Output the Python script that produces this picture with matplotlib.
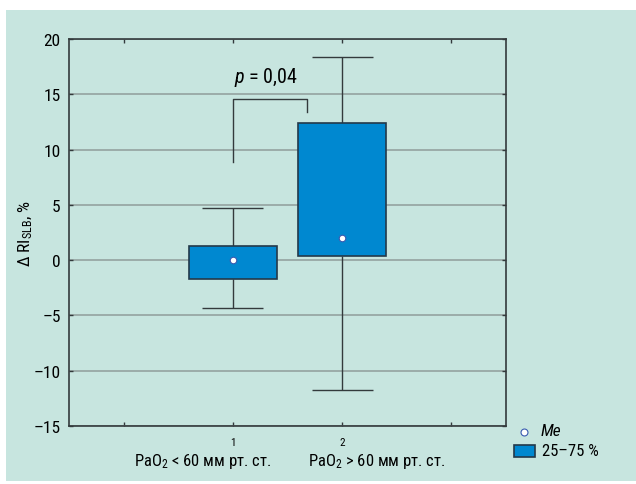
import numpy as np
import matplotlib.pyplot as plt
from matplotlib.patches import Rectangle
from matplotlib.lines import Line2D
import matplotlib.transforms as mtransforms

plt.rcParams['font.family'] = ['Roboto Condensed', 'Liberation Sans', 'DejaVu Sans']
plt.rcParams['mathtext.fontset'] = 'custom'
plt.rcParams['mathtext.rm'] = 'Roboto Condensed'
plt.rcParams['mathtext.it'] = 'Roboto Condensed:italic'

# data
positions = [1, 2]
q1 = [-1.7, 0.35]
q3 = [1.3, 12.4]
median = [0.0, 2.0]
wlow = [-4.3, -11.75]
whigh = [4.7, 18.4]
group_labels = ['PaO$_2$ < 60 мм рт. ст.', 'PaO$_2$ > 60 мм рт. ст.']
yticks = [-15, -10, -5, 0, 5, 10, 15, 20]
ytick_labels = ['\u201315', '\u201310', '\u20135', '0', '5', '10', '15', '20']

bg = '#c7e5df'
boxc = '#0088d0'
dark = '#333a3c'

fig = plt.figure(figsize=(6.36, 4.85), dpi=100, facecolor='white')
fig.patches.append(Rectangle((6 / 636, 3 / 485), 630 / 636, 471 / 485,
                             transform=fig.transFigure, facecolor=bg,
                             edgecolor='none', zorder=-10))
ax = fig.add_axes([69 / 636, 58 / 485, 437 / 636, 387 / 485])
ax.set_facecolor(bg)

ax.set_xlim(-0.5, 3.5)
ax.set_ylim(-15, 20)
ax.set_yticks(yticks)
ax.set_yticklabels(ytick_labels, fontsize=12.5)
ax.set_xticks([0, 1, 2, 3])
ax.set_xticklabels(['', '1', '2', ''], fontsize=8)
ax.tick_params(direction='in', length=3, width=1, color=dark, top=True, right=True, pad=6)
ax.tick_params(axis='x', pad=8)
for s in ax.spines.values():
    s.set_color(dark)
    s.set_linewidth(1.2)
ax.grid(axis='y', color='#8f9c9a', lw=1.1, zorder=0)

# whiskers
ax.vlines(positions, wlow, q1, color=dark, lw=1, zorder=2)
ax.vlines(positions, q3, whigh, color=dark, lw=1, zorder=2)
ax.hlines(wlow, np.array(positions) - 0.28, np.array(positions) + 0.28, color=dark, lw=1, zorder=2)
ax.hlines(whigh, np.array(positions) - 0.28, np.array(positions) + 0.28, color=dark, lw=1, zorder=2)
# boxes
ax.bar(positions, np.array(q3) - np.array(q1), bottom=q1, width=0.8,
       color=boxc, edgecolor='#23394a', lw=1.2, zorder=3)
ax.scatter(positions, median, s=22, facecolor='white', edgecolor='#3a5bb0', lw=0.8, zorder=4)

# significance bracket
ax.plot([1, 1, 1.68, 1.68], [8.9, 14.6, 14.6, 13.4], color=dark, lw=1, zorder=2)
ax.text(1.3, 16.6, '$p$ = 0,04', ha='center', va='center', fontsize=14.5)

ax.set_ylabel('\u0394 RI$_{\\mathrm{SLB}}$, %', fontsize=12.5)
ax.yaxis.set_label_coords(-0.078, 0.5)

trans = mtransforms.blended_transform_factory(ax.transData, ax.transAxes)
ax.text(0.72, -0.09, group_labels[0], transform=trans, ha='center', va='center', fontsize=12)
ax.text(2.32, -0.09, group_labels[1], transform=trans, ha='center', va='center', fontsize=12)

# legend, drawn by hand in figure pixels
def fx(px):
    return px / 636

def fy(py):
    return 1 - py / 485

fig.lines.append(Line2D([fx(524)], [fy(433)], marker='o', ms=5, mfc='white', mec='#3a5bb0',
                        mew=0.8, transform=fig.transFigure))
fig.text(fx(541), fy(432), 'Me', style='italic', fontsize=12.5, va='center', ha='left')
fig.patches.append(Rectangle((fx(514), fy(458)), 21 / 636, 12 / 485, transform=fig.transFigure,
                             facecolor=boxc, edgecolor='#23394a', lw=1.2))
fig.text(fx(542), fy(452), '25\u201375 %', fontsize=12, va='center', ha='left')

fig.savefig('out.png', dpi=100, facecolor='white')
